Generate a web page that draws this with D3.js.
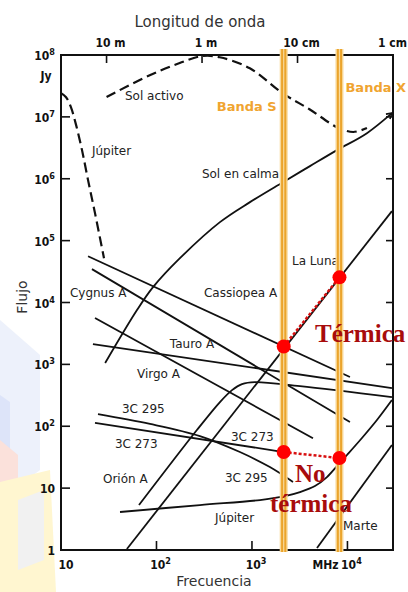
<!DOCTYPE html>
<html><head><meta charset="utf-8">
<script src="https://cdn.jsdelivr.net/npm/d3@7"></script>
<style>body{margin:0;background:#fff}svg{display:block}</style>
</head><body>
<svg id="chart" width="408" height="592"></svg>
<script>
// Flux density (Jy) of radio sources vs frequency (MHz)
const solActivoMHz = [30, 85, 175, 300, 460, 950, 2100, 4000, 7800, 11500, 16000];
const solActivoJy  = [2.1e7, 4.7e7, 7.4e7, 9.6e7, 9.2e7, 6.1e7, 2.4e7, 1.33e7, 6.8e6, 5.7e6, 6.6e6];
const jupiterDecMHz = [10, 11.3, 12.7, 14.4, 16.6, 19.2, 22.7, 28.2];
const jupiterDecJy  = [2.42e7, 2.08e7, 1.44e7, 7.35e6, 2.9e6, 9.5e5, 2.78e5, 5.2e4];
const solCalmaMHz = [29, 62.5, 92, 176, 462, 953, 2113, 4050, 7770, 16000, 29240];
const solCalmaJy  = [1050, 7540, 1.77e4, 5.2e4, 1.99e5, 4.19e5, 8.8e5, 1.6e6, 2.9e6, 5.46e6, 1.15e7];
const lunaMHz = [49, 29240];
const lunaJy  = [1.04, 3.0e5];
const casAMHz = [19.2, 10620];
const casAJy  = [5.6e4, 624];
const cygAMHz = [21.1, 10620];
const cygAJy  = [3.46e4, 117];
const tauAMHz = [21.6, 29240];
const tauAJy  = [2130, 414];
const virAMHz = [22.7, 4355];
const virAJy  = [5600, 64];
const c295MHz = [24.4, 85.5, 285, 748, 1540, 2690];
const c295Jy  = [157, 109, 69.5, 38.3, 21.9, 12.6];
const c273MHz = [22.7, 2150];
const c273Jy  = [113, 38.3];
const orionMHz = [65.6, 265, 462, 618, 786, 1075, 3185, 29240];
const orionJy  = [5.33, 86.8, 246, 384, 481, 518, 446, 296];
const jupiterMHz = [41.5, 285, 1213, 2218, 3185, 4570, 6100, 7770, 9890, 14190, 20370, 29240];
const jupiterJy  = [4.11, 5.33, 6.42, 7.45, 8.65, 10.8, 15.1, 22.7, 34.3, 64.5, 126, 265];
const marteMHz = [4800, 29240];
const marteJy  = [1.08, 49.7];
// S and X band centres (MHz)
const bandNames = ["Banda S", "Banda X"];
const bandMHz = [2150, 8250];
// measured points at both bands
const termicaJy   = [1950, 25500];
const noTermicaJy = [38.3, 30.6];
// axes
const freqTicks = [10, 100, 1000, 10000];
const freqTickExp = ["", "2", "3", "4"];
const fluxTicks = [1, 10, 100, 1e3, 1e4, 1e5, 1e6, 1e7, 1e8];
const wavelengthMHz = [30, 300, 3000, 30000];
const wavelengthLabels = ["10 m", "1 m", "10 cm", "1 cm"];

const zip = (a, b) => a.map((v, i) => [v, b[i]]);
const svg = d3.select("#chart");
const x = d3.scaleLog().domain([10, 30000]).range([61, 393]);
const y = d3.scaleLog().domain([1, 1e8]).range([550, 55]);

// faint logo in the lower-left background
const bg = svg.append("g").attr("opacity", 0.85);
bg.append("path").attr("d", "M0,320 L40,355 L40,470 L0,500 Z").attr("fill", "#eaeffb");
bg.append("path").attr("d", "M0,395 L10,402 L10,470 L0,478 Z").attr("fill", "#d8e0f8");
bg.append("path").attr("d", "M0,440 L18,455 L18,520 L0,535 Z").attr("fill", "#fbdcd5");
bg.append("path").attr("d", "M0,482 L50,470 L56,592 L0,592 Z").attr("fill", "#fff5c8");
bg.append("path").attr("d", "M18,500 L44,490 L44,560 L18,570 Z").attr("fill", "#efefef");

const line = d3.line().x(d => x(d[0])).y(d => y(d[1])).curve(d3.curveCatmullRom.alpha(0.5));
const plot = svg.append("g");
const solid = (pts) => plot.append("path").attr("d", line(pts)).attr("fill", "none")
  .attr("stroke", "#111").attr("stroke-width", 1.8).attr("stroke-linejoin", "round");
const dashed = (pts) => solid(pts).attr("stroke-width", 2.2).attr("stroke-dasharray", "10,5");

dashed(zip(solActivoMHz, solActivoJy));
dashed(zip(jupiterDecMHz, jupiterDecJy));
const calma = zip(solCalmaMHz, solCalmaJy);
solid(calma);
// small hook where the quiet-Sun curve meets the right edge
const end = calma[calma.length - 1];
plot.append("path").attr("d", `M${x(end[0]) - 6},${y(end[1]) + 1}L${x(end[0])},${y(end[1])}L${x(end[0]) - 2},${y(end[1]) + 6}`)
  .attr("fill", "none").attr("stroke", "#111").attr("stroke-width", 1.6);
solid(zip(lunaMHz, lunaJy));
solid(zip(casAMHz, casAJy));
solid(zip(cygAMHz, cygAJy));
solid(zip(tauAMHz, tauAJy));
solid(zip(virAMHz, virAJy));
solid(zip(c295MHz, c295Jy));
solid(zip(c273MHz, c273Jy));
solid(zip(orionMHz, orionJy));
solid(zip(jupiterMHz, jupiterJy));
solid(zip(marteMHz, marteJy));

// frame
svg.append("rect").attr("x", x(10)).attr("y", y(1e8)).attr("width", x(30000) - x(10))
  .attr("height", y(1) - y(1e8)).attr("fill", "none").attr("stroke", "#111").attr("stroke-width", 2);

const tickFont = "'DejaVu Sans Condensed','Liberation Sans Narrow','Arial Narrow',sans-serif";
// flux ticks
fluxTicks.slice(1, -1).forEach(v => {
  svg.append("line").attr("x1", x(10)).attr("x2", x(10) + 9).attr("y1", y(v)).attr("y2", y(v)).attr("stroke", "#111").attr("stroke-width", 1.6);
  svg.append("line").attr("x1", x(30000)).attr("x2", x(30000) - 7).attr("y1", y(v)).attr("y2", y(v)).attr("stroke", "#111").attr("stroke-width", 1.6);
});
fluxTicks.forEach(v => {
  const e = Math.round(Math.log10(v));
  const t = svg.append("text").attr("x", 55).attr("y", y(v) + 5).attr("text-anchor", "end")
    .attr("font-family", tickFont).attr("font-weight", "bold").attr("font-size", 12).attr("fill", "#111");
  if (e === 0) t.text("1");
  else if (e === 1) t.text("10");
  else { t.append("tspan").text("10"); t.append("tspan").attr("dy", -5).attr("font-size", 9).text(e); }
});
svg.append("text").attr("x", 46).attr("y", y(1e8) + 25).attr("text-anchor", "middle")
  .attr("font-family", tickFont).attr("font-weight", "bold").attr("font-size", 12).attr("fill", "#111").text("Jy");

// frequency ticks
freqTicks.slice(1).forEach(v => {
  svg.append("line").attr("x1", x(v)).attr("x2", x(v)).attr("y1", y(1)).attr("y2", y(1) - 9).attr("stroke", "#111").attr("stroke-width", 1.6);
});
freqTicks.forEach((v, i) => {
  const t = svg.append("text").attr("x", x(v) + (i === 0 ? 5 : 4)).attr("y", 569).attr("text-anchor", "middle")
    .attr("font-family", tickFont).attr("font-weight", "bold").attr("font-size", 12).attr("fill", "#111");
  t.append("tspan").text("10");
  if (freqTickExp[i]) t.append("tspan").attr("dy", -5).attr("font-size", 9).text(freqTickExp[i]);
});
svg.append("text").attr("x", x(10000) - 22).attr("y", 569).attr("text-anchor", "middle")
  .attr("font-family", tickFont).attr("font-weight", "bold").attr("font-size", 12).attr("fill", "#111").text("MHz");

// wavelength ticks on top
wavelengthMHz.slice(0, 3).forEach(v => {
  svg.append("line").attr("x1", x(v)).attr("x2", x(v)).attr("y1", y(1e8)).attr("y2", y(1e8) + 8).attr("stroke", "#111").attr("stroke-width", 1.6);
});
wavelengthMHz.forEach((v, i) => {
  const last = i === wavelengthMHz.length - 1;
  svg.append("text").attr("x", last ? 407 : x(v) + 4).attr("y", 47).attr("text-anchor", last ? "end" : "middle")
    .attr("font-family", tickFont).attr("font-weight", "bold").attr("font-size", 12).attr("fill", "#111").text(wavelengthLabels[i]);
});

// axis titles
const titleFont = "'DejaVu Sans',sans-serif";
svg.append("text").attr("x", 200).attr("y", 27).attr("text-anchor", "middle").attr("font-family", titleFont)
  .attr("font-size", 15).attr("fill", "#333").text("Longitud de onda");
svg.append("text").attr("x", 214).attr("y", 586).attr("text-anchor", "middle").attr("font-family", titleFont)
  .attr("font-size", 14).attr("fill", "#333").text("Frecuencia");
svg.append("text").attr("transform", "translate(27,297) rotate(-90)").attr("text-anchor", "middle").attr("font-family", titleFont)
  .attr("font-size", 14).attr("fill", "#333").text("Flujo");

// source labels
const sourceLabels = [
  ["Sol activo", 46.8, 1.86e7], ["Júpiter", 21.1, 2.4e6], ["Sol en calma", 299, 1.02e6],
  ["La Luna", 2624, 4.02e4], ["Cygnus A", 12.4, 1.22e4], ["Cassiopea A", 314, 1.22e4],
  ["Tauro A", 138, 1830], ["Virgo A", 62.5, 601], ["3C 295", 43.5, 163],
  ["3C 273", 36.7, 44.4], ["3C 273", 603, 57.7], ["Orión A", 27.5, 12.1],
  ["3C 295", 521, 12.5], ["Júpiter", 410, 2.83], ["Marte", 8970, 2.1]
];
sourceLabels.forEach(([t, f, s]) => {
  svg.append("text").attr("x", x(f)).attr("y", y(s)).attr("font-family", titleFont)
    .attr("font-size", 12).attr("fill", "#222").text(t);
});

// observing bands
const bands = svg.append("g");
bandMHz.forEach(f => {
  const cx = x(f);
  bands.append("rect").attr("x", cx - 4).attr("y", 49).attr("width", 8).attr("height", 503).attr("fill", "#f8d99a");
  [-1.6, 1.6].forEach(o => bands.append("line").attr("x1", cx + o).attr("x2", cx + o).attr("y1", 49).attr("y2", 552)
    .attr("stroke", "#eba42c").attr("stroke-width", 2));
});
bands.append("text").attr("x", x(bandMHz[0]) - 7).attr("y", 111).attr("text-anchor", "end")
  .attr("font-family", "'DejaVu Sans',sans-serif").attr("font-weight", "bold").attr("font-size", 13)
  .attr("fill", "#f0a430").text(bandNames[0]);
bands.append("text").attr("x", x(bandMHz[1]) + 6).attr("y", 92)
  .attr("font-family", "'DejaVu Sans',sans-serif").attr("font-weight", "bold").attr("font-size", 13)
  .attr("fill", "#f0a430").text(bandNames[1]);

// thermal / non-thermal measurements
const red = svg.append("g");
[termicaJy, noTermicaJy].forEach(vals => {
  red.append("path").attr("d", d3.line()(bandMHz.map((f, i) => [x(f), y(vals[i])])))
    .attr("stroke", "#d81010").attr("stroke-width", 2.5).attr("stroke-dasharray", "3,2").attr("fill", "none");
  bandMHz.forEach((f, i) => red.append("circle").attr("cx", x(f)).attr("cy", y(vals[i])).attr("r", 7).attr("fill", "#f00"));
});
const serif = "'Liberation Serif','Times New Roman',serif";
const redText = (t, px, py) => red.append("text").attr("x", px).attr("y", py).attr("font-family", serif)
  .attr("font-weight", "bold").attr("font-size", 25).attr("fill", "#a80c0c").text(t);
redText("Térmica", 315, 342);
redText("No", 295, 482);
redText("térmica", 270, 512);
</script>
</body></html>
